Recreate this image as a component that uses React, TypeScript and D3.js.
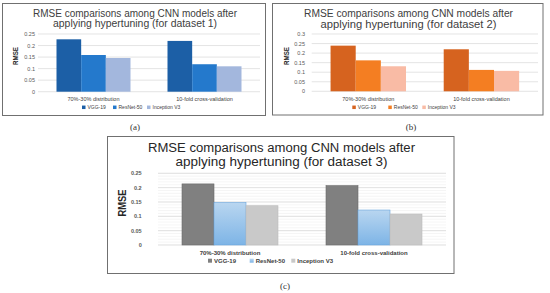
import * as d3 from "d3";

// values
const categories = ["70%-30% distribution", "10-fold cross-validation"];
const models = ["VGG-19", "ResNet-50", "Inception V3"];

// rows = category, columns = model
const dataset1 = [
  [0.227, 0.159, 0.146],
  [0.22, 0.119, 0.11],
];
const dataset2 = [
  [0.239, 0.162, 0.131],
  [0.22, 0.112, 0.107],
];
const dataset3 = [
  [0.213, 0.148, 0.137],
  [0.207, 0.122, 0.108],
];

const ticks1 = [0, 0.05, 0.1, 0.15, 0.2, 0.25];
const ticks2 = [0, 0.05, 0.1, 0.15, 0.2, 0.25, 0.3];
const ticks3 = [0, 0.05, 0.1, 0.15, 0.2, 0.25];

const titles1 = ["RMSE comparisons among CNN models after", "applying hypertuning (for dataset 1)"];
const titles2 = ["RMSE comparisons among CNN models after", "applying hypertuning (for dataset 2)"];
const titles3 = ["RMSE comparisons among CNN models after", "applying hypertuning (for dataset 3)"];

const FONT = "'Liberation Sans', Arial, sans-serif";

function Panel({ cfg, values, ticks, titles }) {
  const x = d3.scaleBand().domain(categories).range([cfg.x0, cfg.x1]);
  const bw = x.bandwidth();
  const inner = d3.scaleBand().domain(models).range([bw / 6, (bw * 5) / 6]);
  const y = d3.scaleLinear().domain([0, cfg.yTopVal]).range([cfg.yBottom, cfg.yTop]);
  const minor = cfg.minor ? d3.range(0, cfg.yTopVal + 0.0001, 0.01) : [];

  return (
    <g fontFamily={FONT}>
      <rect x={cfg.box[0]} y={cfg.box[1]} width={cfg.box[2]} height={cfg.box[3]}
        fill="#fff" stroke="#707070" strokeWidth={1} />
      {titles.map((t, i) => (
        <text key={t} x={cfg.titleX} y={cfg.titleY[i]} textAnchor="middle" dominantBaseline="central"
          fontSize={cfg.titleSize} fill={cfg.titleColor}
          textLength={cfg.titleW[i]} lengthAdjust="spacingAndGlyphs">{t}</text>
      ))}
      {minor.map((v) => (
        <line key={"m" + v} x1={cfg.x0} x2={cfg.x1} y1={y(v)} y2={y(v)} stroke="#efefef" strokeWidth={0.6} />
      ))}
      {ticks.map((v) => (
        <g key={v}>
          <line x1={cfg.x0} x2={cfg.x1} y1={y(v)} y2={y(v)} stroke="#d9d9d9" strokeWidth={0.7} />
          <text x={cfg.tickX} y={y(v)} textAnchor="end" dominantBaseline="central"
            fontSize={cfg.tickSize} fontWeight={cfg.bold ? "bold" : "normal"} fill="#595959">
            {String(v)}
          </text>
        </g>
      ))}
      <text transform={`translate(${cfg.ylab[0]},${cfg.ylab[1]}) rotate(-90)`} textAnchor="middle"
        dominantBaseline="central" fontSize={cfg.ylabSize} fontWeight="bold" fill="#262626"
        textLength={cfg.ylabW} lengthAdjust="spacingAndGlyphs">RMSE</text>
      {categories.map((c, ci) => (
        <g key={c} transform={`translate(${x(c)},0)`}>
          {models.map((m, mi) => (
            <rect key={m} x={inner(m)} width={inner.bandwidth()} y={y(values[ci][mi])}
              height={y(0) - y(values[ci][mi])} fill={cfg.fills[mi]}
              stroke={cfg.strokes ? cfg.strokes[mi] : "none"} strokeWidth={0.6} />
          ))}
          <text x={bw / 2} y={cfg.catY} textAnchor="middle" dominantBaseline="central"
            fontSize={cfg.catSize} fontWeight={cfg.bold ? "bold" : "normal"} fill="#404040">{c}</text>
        </g>
      ))}
      {models.map((m, mi) => (
        <g key={m} transform={`translate(${cfg.legX[mi]},${cfg.legY})`}>
          <rect x={0} y={-cfg.legSq / 2} width={cfg.legSq} height={cfg.legSq} fill={cfg.fills[mi]} />
          <text x={cfg.legSq + 2} y={0} dominantBaseline="central" fontSize={cfg.legSize}
            fontWeight={cfg.bold ? "bold" : "normal"} fill="#404040">{m}</text>
        </g>
      ))}
      <text x={cfg.cap[0]} y={cfg.cap[1]} textAnchor="middle" dominantBaseline="central"
        fontSize={9} fontFamily="'Liberation Serif', serif" fill="#333">{cfg.capText}</text>
    </g>
  );
}

const cfgA = {
  box: [2.5, 3.5, 263, 112], x0: 38, x1: 260, yBottom: 91.7, yTop: 34, yTopVal: 0.25,
  titleX: 135, titleY: [13, 23.5], titleSize: 10, titleColor: "#404040", titleW: [204, 164],
  tickX: 35, tickSize: 5.5, ylab: [15, 56], ylabSize: 8, ylabW: 18,
  catY: 98.7, catSize: 5.5, legX: [82, 113, 147], legY: 107.3, legSq: 3.5, legSize: 5,
  fills: ["#1c5fa6", "#2479cc", "#a3b7dd"], cap: [135, 127], capText: "(a)",
};
const cfgB = {
  box: [272.5, 3.5, 270.5, 111.5], x0: 311.7, x1: 538, yBottom: 91.3, yTop: 34, yTopVal: 0.3,
  titleX: 408.5, titleY: [13.3, 24], titleSize: 10, titleColor: "#404040", titleW: [209, 176],
  tickX: 305, tickSize: 5.5, ylab: [286, 56], ylabSize: 8, ylabW: 18,
  catY: 98.7, catSize: 5.5, legX: [352.3, 388.3, 422.3], legY: 107.3, legSq: 3.5, legSize: 5,
  fills: ["#d6631f", "#f47e22", "#f9bba5"], cap: [411, 127], capText: "(b)",
};
const cfgC = {
  box: [107.5, 136.5, 346.5, 137], x0: 158, x1: 446, yBottom: 245, yTop: 173.3, yTopVal: 0.25,
  titleX: 281.5, titleY: [148.3, 161.7], titleSize: 12, titleColor: "#262626", titleW: [267, 212],
  tickX: 141.7, tickSize: 5.5, ylab: [121.7, 203], ylabSize: 11, ylabW: 27, bold: true, minor: true,
  catY: 252.7, catSize: 6, legX: [208, 249.7, 291.3], legY: 260.7, legSq: 4, legSize: 6,
  fills: ["#808080", "url(#resGrad)", "#c9c9c9"], strokes: ["#6a6a6a", "#6aa6dc", "#bdbdbd"],
  cap: [285, 285.7], capText: "(c)",
};

export default function App() {
  return (
    <svg width={550} height={293} style={{ position: "absolute", left: 0, top: 0, background: "#fff" }}>
      <defs>
        <linearGradient id="resGrad" x1="0" y1="0" x2="0" y2="1">
          <stop offset="0" stopColor="#b9d6f0" />
          <stop offset="1" stopColor="#7db4e6" />
        </linearGradient>
      </defs>
      <rect width={550} height={293} fill="#fff" />
      <Panel cfg={cfgA} values={dataset1} ticks={ticks1} titles={titles1} />
      <Panel cfg={cfgB} values={dataset2} ticks={ticks2} titles={titles2} />
      <Panel cfg={cfgC} values={dataset3} ticks={ticks3} titles={titles3} />
    </svg>
  );
}
